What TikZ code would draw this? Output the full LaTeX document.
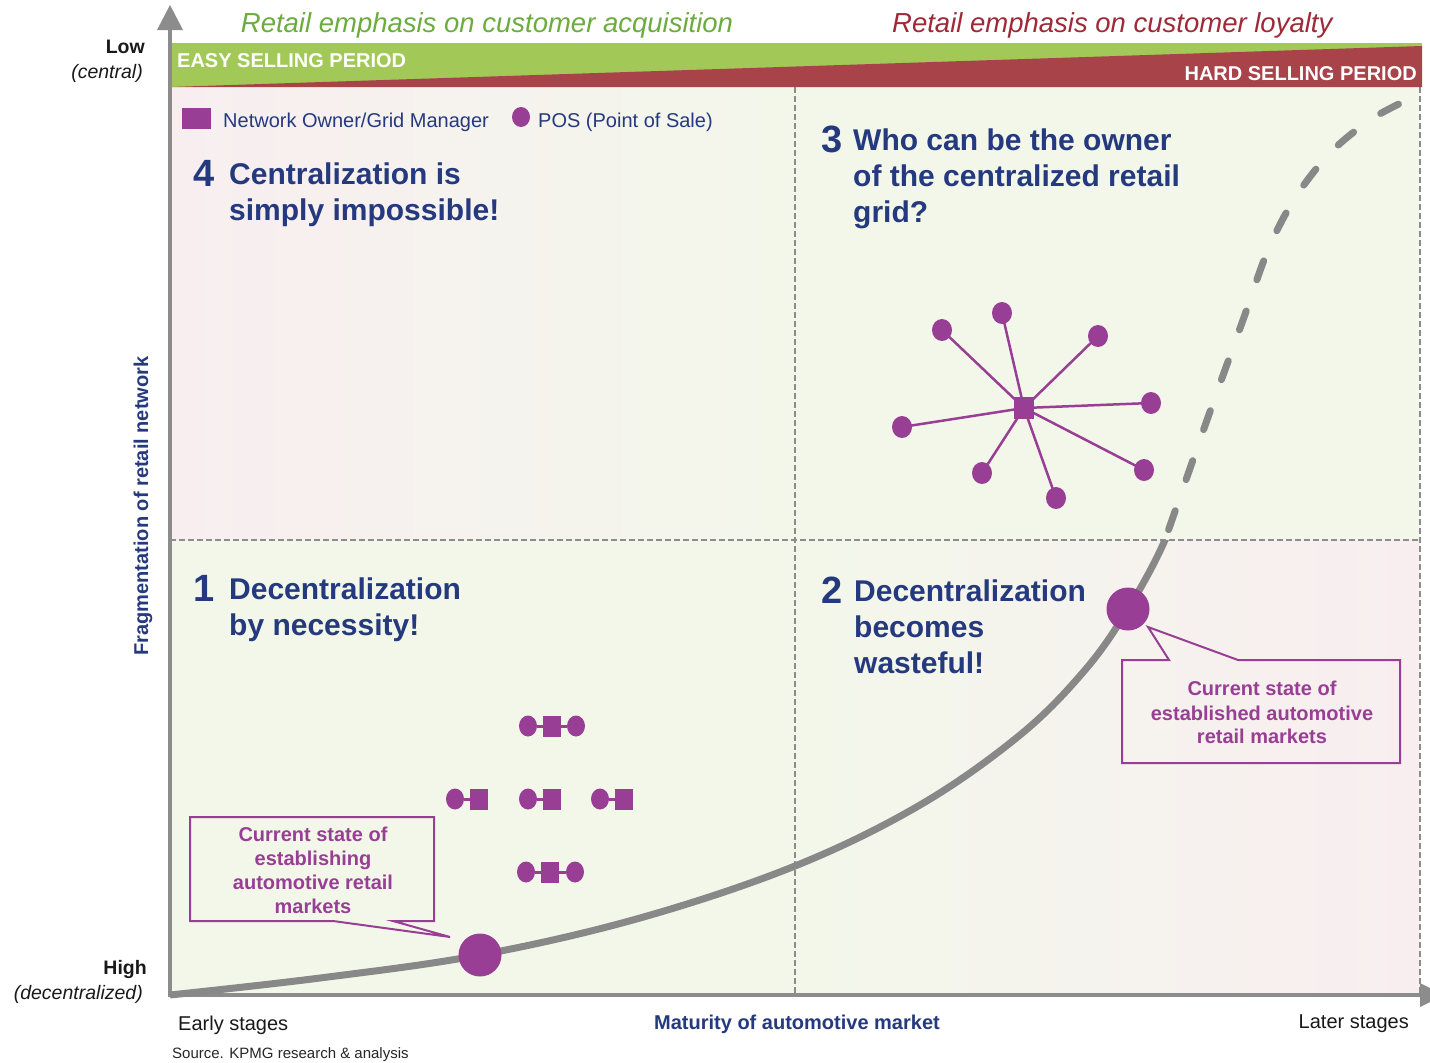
\documentclass[tikz,border=0pt]{standalone}
\usepackage{fontspec}
\setmainfont{Liberation Sans}
\usetikzlibrary{shapes.geometric}

\definecolor{navy}{RGB}{37,58,126}
\definecolor{plum}{RGB}{153,62,149}
\definecolor{leaf}{RGB}{162,201,87}
\definecolor{leaftext}{RGB}{108,172,62}
\definecolor{wine}{RGB}{168,67,74}
\definecolor{winetext}{RGB}{158,42,56}
\definecolor{axisgray}{RGB}{140,140,140}
\definecolor{curvegray}{RGB}{136,136,136}
\definecolor{bggreen}{RGB}{243,247,234}
\definecolor{bgpink}{RGB}{248,238,240}

\tikzset{
  divider/.style={draw=axisgray, line width=1.3pt, dash pattern=on 6pt off 3pt},
  axisline/.style={draw=axisgray, line width=4pt},
  curveline/.style={draw=curvegray, line width=7pt},
  title/.style={font=\bfseries\fontsize{30}{36}\selectfont, text=navy, inner sep=0pt, anchor=base west},
  qnum/.style={font=\bfseries\fontsize{38}{40}\selectfont, text=navy, inner sep=0pt, anchor=base west},
  calltext/.style={font=\bfseries\fontsize{20}{24}\selectfont, text=plum, inner sep=0pt, anchor=base},
  callbox/.style={draw=plum, line width=2pt, line join=miter},
  posdot/.style={ellipse, fill=plum, inner sep=0pt, minimum width=18pt, minimum height=21pt},
  ownbox/.style={rectangle, fill=plum, inner sep=0pt, minimum width=18pt, minimum height=21pt},
  sposdot/.style={ellipse, fill=plum, inner sep=0pt, minimum width=20pt, minimum height=22pt},
  sownbox/.style={rectangle, fill=plum, inner sep=0pt, minimum width=20pt, minimum height=22pt},
  pairlink/.style={draw=plum, line width=3pt},
  spoke/.style={draw=plum, line width=2.5pt},
  bigdot/.style={circle, fill=plum, inner sep=0pt, minimum size=43pt},
  axtext/.style={font=\fontsize{20}{24}\selectfont, text=black!90, inner sep=0pt},
}

\begin{document}
\begin{tikzpicture}[x=1pt, y=-1pt]
\useasboundingbox (0,0) rectangle (1430,1063);
\fill[white] (0,0) rectangle (1430,1063);

% quadrant backgrounds
\shade[left color=bgpink, right color=bggreen] (170,87) rectangle (795,540);
\fill[bggreen] (795,87) rectangle (1420,540);
\fill[bggreen] (170,540) rectangle (795,995);
\shade[left color=bggreen, right color=bgpink] (795,540) rectangle (1420,995);

% quadrant dividers
\draw[divider] (795,87) -- (795,995);
\draw[divider] (170,540) -- (1420,540);
\draw[divider] (1420,87) -- (1420,995);

% selling period band
\fill[leaf] (170,43) rectangle (1422,87);
\fill[wine] (170,87) -- (1422,46) -- (1422,87) -- cycle;
\node[font=\bfseries\fontsize{20}{24}\selectfont, text=white, inner sep=0pt, anchor=base west] (easy) at (177,67) {EASY SELLING PERIOD};
\node[font=\bfseries\fontsize{20}{24}\selectfont, text=white, inner sep=0pt, anchor=base east] (hard) at (1417,80) {HARD SELLING PERIOD};

% headings above the band
\node[font=\itshape\fontsize{27.5}{30}\selectfont, text=leaftext, inner sep=0pt, anchor=base] (acq) at (487,32) {Retail emphasis on customer acquisition};
\node[font=\itshape\fontsize{27.5}{30}\selectfont, text=winetext, inner sep=0pt, anchor=base west] (loy) at (892,32) {Retail emphasis on customer loyalty};

% axes
\draw[axisline] (170,997) -- (170,28);
\fill[axisgray] (157,30) -- (170,5) -- (183,30) -- cycle;
\draw[axisline] (168,995) -- (1422,995);
\fill[axisgray] (1420,983) -- (1444,995) -- (1420,1007) -- cycle;

% maturity curve: solid below the divider
\begin{scope}
  \clip (150,540) rectangle (1430,1010);
  \draw[curveline] plot[smooth, tension=0.6] coordinates {(170,995) (320,978) (480,955) (640,918) (795,866) (920,805) (1020,735) (1085,670) (1128,609) (1165,540) (1189,470) (1207,420)};
\end{scope}
% and dashed above it
\draw[curveline, line cap=round, dash pattern=on 20pt off 33pt, dash phase=42pt] plot[smooth, tension=0.55] coordinates {(1165,540) (1207,420) (1243,320) (1268,250) (1295,198) (1330,153) (1370,120) (1405,101)};

% legend
\node[rectangle, fill=plum, inner sep=0pt, minimum width=29pt, minimum height=21pt] (legown) at (196.5,118.5) {};
\node[font=\fontsize{20}{24}\selectfont, text=navy, inner sep=0pt, anchor=base west] (legowntxt) at (223,127) {Network Owner/Grid Manager};
\node[ellipse, fill=plum, inner sep=0pt, minimum width=18pt, minimum height=20pt] (legpos) at (521,117) {};
\node[font=\fontsize{20}{24}\selectfont, text=navy, inner sep=0pt, anchor=base west] (legpostxt) at (538,127) {POS (Point of Sale)};

% quadrant 4
\node[qnum] (n4) at (193,186) {4};
\node[title] (t4a) at (229,184) {Centralization is};
\node[title] (t4b) at (229,220) {simply impossible!};

% quadrant 3
\node[qnum] (n3) at (821,152) {3};
\node[title] (t3a) at (853,150) {Who can be the owner};
\node[title] (t3b) at (853,186) {of the centralized retail};
\node[title] (t3c) at (853,222) {grid?};

% quadrant 1
\node[qnum] (n1) at (193,601) {1};
\node[title] (t1a) at (229,599) {Decentralization};
\node[title] (t1b) at (229,635) {by necessity!};

% quadrant 2
\node[qnum] (n2) at (821,603) {2};
\node[title] (t2a) at (854,601) {Decentralization};
\node[title] (t2b) at (854,637) {becomes};
\node[title] (t2c) at (854,673) {wasteful!};

% centralized grid: one owner, many points of sale
\node[sownbox] (hub) at (1024,408) {};
\foreach \nm/\px/\py in {s1/942/330, s2/1002/313, s3/1098/336, s4/1151/403, s5/1144/470, s6/1056/498, s7/982/473, s8/902/427} {
  \node[sposdot] (\nm) at (\px,\py) {};
  \draw[spoke] (hub.center) -- (\nm.center);
}
\node[sownbox] (hubtop) at (hub) {};

% decentralized grid: many small owner/POS pairs
\node[posdot] (a1) at (528,726) {};
\node[ownbox] (a2) at (552,726) {};
\node[posdot] (a3) at (576,726) {};
\draw[pairlink] (a1) -- (a2) -- (a3);
\node[posdot] (b1) at (455,799) {};
\node[ownbox] (b2) at (479,799) {};
\draw[pairlink] (b1) -- (b2);
\node[posdot] (c1) at (528,799) {};
\node[ownbox] (c2) at (552,799) {};
\draw[pairlink] (c1) -- (c2);
\node[posdot] (d1) at (600,799) {};
\node[ownbox] (d2) at (624,799) {};
\draw[pairlink] (d1) -- (d2);
\node[posdot] (e1) at (526,872) {};
\node[ownbox] (e2) at (550,872) {};
\node[posdot] (e3) at (575,872) {};
\draw[pairlink] (e1) -- (e2) -- (e3);

% current-state markers on the curve
\node[bigdot] (early) at (480,955) {};
\node[bigdot] (late) at (1128,609) {};

% callouts
\coordinate (tipA) at (450,937);
\draw[callbox] (190,817) -- (434,817) -- (434,921) -- (393,921) -- (tipA) -- (333,921) -- (190,921) -- cycle;
\node[calltext] (ca1) at (313,841) {Current state of};
\node[calltext] (ca2) at (313,865) {establishing};
\node[calltext] (ca3) at (313,889) {automotive retail};
\node[calltext] (ca4) at (313,913) {markets};

\coordinate (tipB) at (1148,627);
\draw[callbox] (1122,660) -- (1169,660) -- (tipB) -- (1238,660) -- (1400,660) -- (1400,763) -- (1122,763) -- cycle;
\node[calltext] (cb1) at (1262,695) {Current state of};
\node[calltext] (cb2) at (1262,720) {established automotive};
\node[calltext] (cb3) at (1262,743) {retail markets};

% axis labels
\node[font=\bfseries\fontsize{19.5}{24}\selectfont, text=black!90, inner sep=0pt, anchor=base east] (low) at (145,53) {Low};
\node[font=\itshape\fontsize{19.5}{24}\selectfont, text=black!90, inner sep=0pt, anchor=base east] (lowsub) at (143,78) {(central)};
\node[font=\bfseries\fontsize{19.5}{24}\selectfont, text=black!90, inner sep=0pt, anchor=base east] (high) at (147,974) {High};
\node[font=\itshape\fontsize{19.5}{24}\selectfont, text=black!90, inner sep=0pt, anchor=base east] (highsub) at (143,999) {(decentralized)};
\node[font=\bfseries\fontsize{20}{24}\selectfont, text=navy, inner sep=0pt, rotate=90] (ylab) at (143,506) {Fragmentation of retail network};

\node[axtext, anchor=base west] (early-lab) at (178,1030) {Early stages};
\node[font=\bfseries\fontsize{20}{24}\selectfont, text=navy, inner sep=0pt, anchor=base] (xlab) at (797,1029) {Maturity of automotive market};
\node[axtext, anchor=base east] (late-lab) at (1409,1028) {Later stages};
\node[font=\fontsize{15}{18}\selectfont, text=black!85, inner sep=0pt, anchor=base west] (src) at (172,1058) {Source. KPMG research \& analysis};

\end{tikzpicture}
\end{document}
